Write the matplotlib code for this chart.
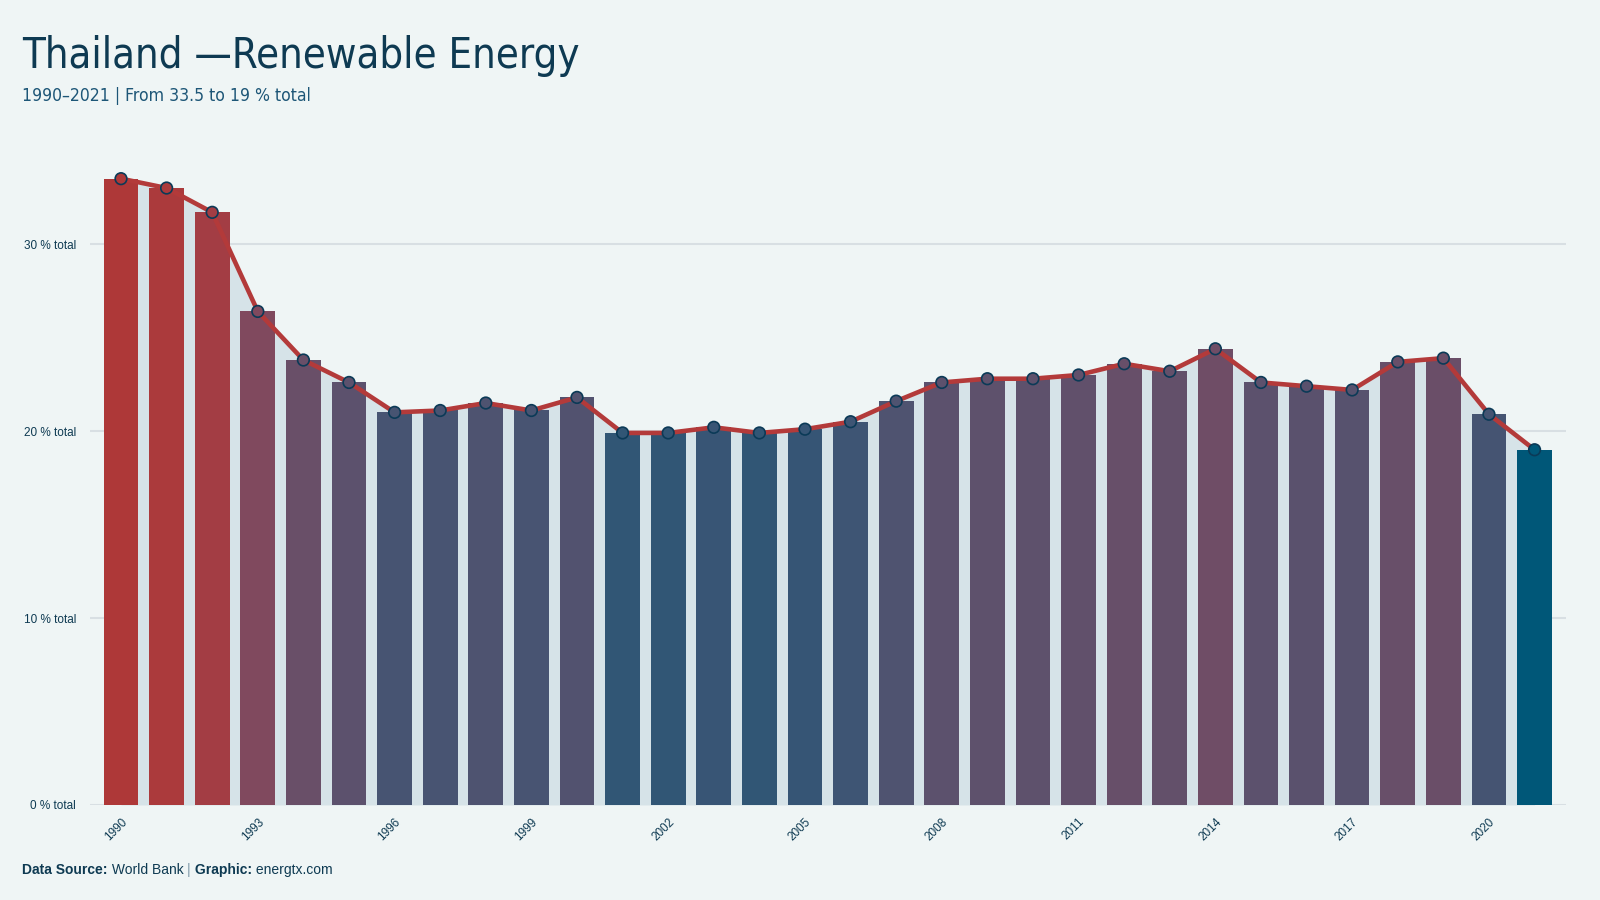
import matplotlib
matplotlib.use("Agg")
import matplotlib.pyplot as plt
from matplotlib import font_manager
import numpy as np

# data
years = list(range(1990, 2022))
share = [33.5, 33.0, 31.7, 26.4, 23.8, 22.6, 21.0, 21.1, 21.5, 21.1,
         21.8, 19.9, 19.9, 20.2, 19.9, 20.1, 20.5, 21.6, 22.6, 22.8,
         22.8, 23.0, 23.6, 23.2, 24.4, 22.6, 22.4, 22.2, 23.7, 23.9,
         20.9, 19.0]
xtick_years = [1990, 1993, 1996, 1999, 2002, 2005, 2008, 2011, 2014, 2017, 2020]
ytick_vals = [0, 10, 20, 30]

title = "Thailand \u2014Renewable Energy"
subtitle = "1990\u20132021 | From 33.5 to 19 % total"

# styling
BG = "#eff5f5"
NAVY = "#0e3a52"
AREA = "#d6e3e8"
RED = "#b33a3a"
LOW = "#005a7c"
HIGH = "#b33a3a"
plt.rcParams["font.family"] = ["Liberation Sans", "DejaVu Sans"]

# condensed face for the headings if one is installed
cond = font_manager.FontProperties(family="DejaVu Sans", stretch="condensed")
has_cond = "Condensed" in font_manager.findfont(cond, fallback_to_default=True)
if has_cond:
    head_kw = dict(family="DejaVu Sans", stretch="condensed")
    title_size, sub_size = 30, 12.6
else:
    head_kw = dict(family=["Liberation Sans", "DejaVu Sans"])
    title_size, sub_size = 28, 12


def hex2rgb(h):
    h = h.lstrip("#")
    return np.array([int(h[i:i + 2], 16) / 255 for i in (0, 2, 4)])


def blend(v, vmin, vmax, gamma=2.2):
    # interpolate between the two end colours in linear light
    t = (v - vmin) / (vmax - vmin)
    a = hex2rgb(LOW) ** gamma
    b = hex2rgb(HIGH) ** gamma
    return tuple((a + t * (b - a)) ** (1 / gamma) * 0.97)


x = np.array(years)
y = np.array(share)
cols = [blend(v, y.min(), y.max()) for v in y]

fig = plt.figure(figsize=(16, 9), dpi=100, facecolor=BG)
ax = fig.add_axes([0.05625, 0.1056, 0.9228, 0.7478], facecolor=BG)

ax.fill_between(x, 0, y, color=AREA, lw=0, zorder=1)
ax.bar(x, y, width=0.76, color=cols, zorder=2)
ax.plot(x, y, color=RED, lw=3.3, zorder=3, solid_capstyle="round")
ax.scatter(x, y, s=70, c=cols, edgecolors="#0b3a57", linewidths=1.2, zorder=4)

ax.set_xlim(1989.32, 2021.7)
ax.set_ylim(0, 36)

ax.set_yticks(ytick_vals)
ax.set_yticklabels([f"{v} % total" for v in ytick_vals], fontsize=8.5, color=NAVY)
ax.set_xticks(xtick_years)
ax.set_xticklabels([str(v) for v in xtick_years], fontsize=8.5, color=NAVY,
                   rotation=45, ha="right", rotation_mode="anchor")
ax.tick_params(axis="both", length=0)
ax.tick_params(axis="y", pad=10)
ax.tick_params(axis="x", pad=8)
ax.grid(axis="y", color="#d8dfe3", lw=1.5, zorder=0)
ax.set_axisbelow(True)
for s in ax.spines.values():
    s.set_visible(False)

fig.text(0.014, 0.924, title, fontsize=title_size, color=NAVY, va="baseline", **head_kw)
fig.text(0.014, 0.888, subtitle, fontsize=sub_size, color="#1d5677", va="baseline", **head_kw)

# footer built piece by piece so the bold parts sit inline
pieces = [("Data Source:", "bold", NAVY), (" World Bank ", "normal", NAVY),
          ("|", "normal", "#7f98a8"), (" Graphic:", "bold", NAVY),
          (" energtx.com", "normal", NAVY)]
fig.canvas.draw()
r = fig.canvas.get_renderer()
xpos = 22
for txt, w, c in pieces:
    t = fig.text(xpos / 1600, 1 - 874 / 900, txt, fontsize=10, fontweight=w,
                 color=c, va="baseline")
    xpos = t.get_window_extent(r).x1

fig.savefig("out.png", dpi=100, facecolor=BG)
